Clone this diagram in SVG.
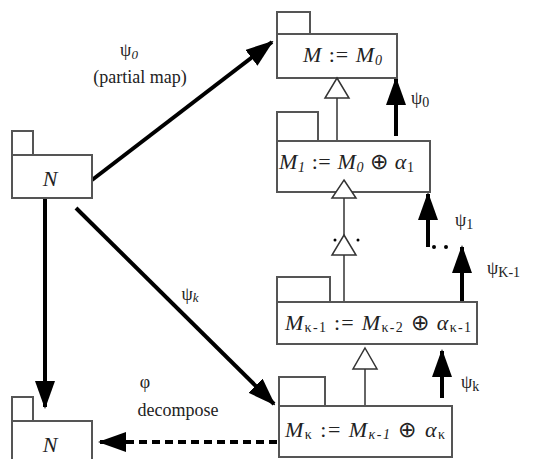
<svg xmlns="http://www.w3.org/2000/svg" width="534" height="459" viewBox="0 0 534 459">
<defs>
<style>
.box{fill:#fff;stroke:#555;stroke-width:2}
text{fill:#222;font-family:'Liberation Serif','Times New Roman',serif}
.i{font-style:italic}
.big{font-size:22px}
.lab{font-size:18px}
.thick{stroke:#000;stroke-width:4;fill:none}
.inh{stroke:#333;stroke-width:1.5;fill:none}
.tri{fill:#fff;stroke:#333;stroke-width:1.5}
</style>
<marker id="ah" viewBox="0 0 14 10" refX="13" refY="5" markerWidth="7" markerHeight="5" markerUnits="strokeWidth" orient="auto"><path d="M0,0 L14,5 L0,10 z" fill="#000"/></marker>
</defs>
<g id="connectors">
<line class="thick" x1="92" y1="180" x2="272" y2="42" marker-end="url(#ah)"/>
<line class="thick" x1="76" y1="208" x2="274" y2="404" marker-end="url(#ah)"/>
<line class="thick" x1="45" y1="198" x2="45" y2="407" marker-end="url(#ah)"/>
<line class="thick" x1="277" y1="442" x2="100" y2="442" stroke-dasharray="8,5" marker-end="url(#ah)"/>
<line class="thick" x1="396" y1="136" x2="396" y2="79" marker-end="url(#ah)"/>
<line class="thick" x1="428" y1="247" x2="428" y2="194" marker-end="url(#ah)"/>
<line x1="434" y1="247" x2="458" y2="247" stroke="#000" stroke-width="4" stroke-dasharray="0,12" stroke-linecap="round"/>
<line class="thick" x1="462" y1="302" x2="462" y2="247" marker-end="url(#ah)"/>
<line class="thick" x1="442" y1="398" x2="442" y2="351" marker-end="url(#ah)"/>
<line class="inh" x1="337" y1="98" x2="337" y2="141"/>
<line class="inh" x1="344" y1="198" x2="344" y2="302"/>
<line class="inh" x1="365" y1="369" x2="365" y2="406"/>
</g>
<g id="M0">
<rect class="box" x="277" y="12" width="33" height="22"/>
<rect class="box" x="277" y="34" width="120" height="44"/>
<text class="big" x="303" y="62" textLength="79" lengthAdjust="spacing"><tspan class="i">M</tspan> := <tspan class="i">M</tspan><tspan class="i" font-size="14" dy="3">0</tspan></text>
</g>
<g id="M1">
<rect class="box" x="277" y="112" width="41" height="29"/>
<rect class="box" x="277" y="141" width="153" height="51"/>
<text class="big" x="279" y="169" textLength="135" lengthAdjust="spacing"><tspan class="i">M</tspan><tspan class="i" font-size="14" dy="3">1</tspan><tspan dy="-3"> := </tspan><tspan class="i">M</tspan><tspan class="i" font-size="14" dy="3">0</tspan><tspan dy="-3"> ⊕ </tspan><tspan class="i">α</tspan><tspan font-size="14" dy="3">1</tspan></text>
</g>
<g id="Mk1">
<rect class="box" x="277" y="277" width="53" height="25"/>
<rect class="box" x="277" y="302" width="200" height="42"/>
<text class="big" x="285" y="330" textLength="186" lengthAdjust="spacing"><tspan class="i">M</tspan><tspan font-size="14" dy="2">κ-1</tspan><tspan dy="-2"> := </tspan><tspan class="i">M</tspan><tspan font-size="14" dy="2">κ-2</tspan><tspan dy="-2"> ⊕ </tspan><tspan class="i">α</tspan><tspan font-size="14" dy="2">κ-1</tspan></text>
</g>
<g id="Mk">
<rect class="box" x="279" y="377" width="46" height="29"/>
<rect class="box" x="279" y="406" width="173" height="51"/>
<text class="big" x="285" y="437" textLength="160" lengthAdjust="spacing"><tspan class="i">M</tspan><tspan font-size="14" dy="2">κ</tspan><tspan dy="-2"> := </tspan><tspan class="i">M</tspan><tspan class="i" font-size="14" dy="2">κ-1</tspan><tspan dy="-2"> ⊕ </tspan><tspan class="i">α</tspan><tspan font-size="14" dy="2">κ</tspan></text>
</g>
<g id="triangles">
<path class="tri" d="M337,78 L349,98 L325,98 z"/>
<path class="tri" d="M344,180 L356,198 L332,198 z"/>
<path class="tri" d="M344,235 L356,255 L332,255 z"/>
<circle cx="335" cy="240" r="1.5" fill="#000"/>
<circle cx="358" cy="240" r="1.5" fill="#000"/>
<path class="tri" d="M365,348 L377,369 L353,369 z"/>
</g>
<g id="N">
<rect class="box" x="12" y="131" width="21" height="24"/>
<rect class="box" x="12" y="155" width="80" height="43"/>
<text class="i big" x="50" y="186" text-anchor="middle">N</text>
</g>
<g id="N2">
<rect class="box" x="12" y="397" width="21" height="24"/>
<rect class="box" x="12" y="421" width="80" height="45"/>
<text class="i big" x="50" y="452" text-anchor="middle">N</text>
</g>
<g id="labels">
<text class="lab" x="129" y="56" text-anchor="middle">ψ<tspan class="i" font-size="13" dy="3">0</tspan></text>
<text class="lab" x="140" y="83" text-anchor="middle">(partial map)</text>
<text class="lab" x="190" y="300" text-anchor="middle">ψ<tspan class="i" font-size="13" dy="2">k</tspan></text>
<text class="lab" x="145" y="388" text-anchor="middle">φ</text>
<text class="lab" x="178" y="416" text-anchor="middle">decompose</text>
<text class="lab" x="411" y="104">ψ<tspan font-size="14" dy="3">0</tspan></text>
<text class="lab" x="455" y="226">ψ<tspan font-size="14" dy="3">1</tspan></text>
<text class="lab" x="487" y="274">ψ<tspan font-size="14" dy="3">K-1</tspan></text>
<text class="lab" x="461" y="388">ψ<tspan font-size="14" dy="3">k</tspan></text>
</g>
</svg>
